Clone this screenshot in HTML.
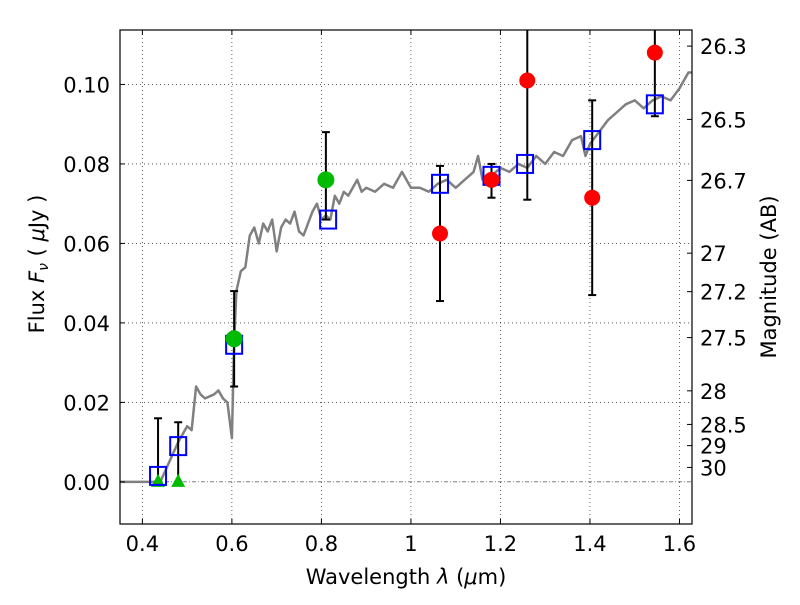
<!DOCTYPE html>
<html><head><meta charset="utf-8"><style>
body{margin:0;background:#fff}
svg text{font-family:"DejaVu Sans","Liberation Sans",sans-serif;fill:#000}
</style></head><body>
<svg id="chart" width="800" height="600"></svg>
<script>
const specX=[0.35,0.44,0.46,0.48,0.50,0.51,0.52,0.53,0.54,0.56,0.57,0.58,0.59,0.60,0.605,0.61,0.62,0.63,0.64,0.65,0.66,0.67,0.68,0.69,0.70,0.71,0.72,0.73,0.74,0.75,0.76,0.77,0.78,0.79,0.80,0.81,0.82,0.83,0.84,0.85,0.86,0.87,0.88,0.89,0.90,0.92,0.94,0.96,0.98,1.0,1.02,1.04,1.06,1.08,1.10,1.12,1.14,1.15,1.16,1.18,1.20,1.22,1.24,1.26,1.28,1.30,1.32,1.34,1.36,1.38,1.39,1.40,1.42,1.44,1.46,1.48,1.50,1.52,1.54,1.56,1.58,1.60,1.62,1.63];
const specY=[0,0,0.005,0.010,0.014,0.013,0.024,0.022,0.021,0.022,0.023,0.021,0.020,0.011,0.035,0.048,0.053,0.054,0.062,0.064,0.060,0.065,0.063,0.066,0.058,0.064,0.066,0.065,0.068,0.063,0.062,0.065,0.068,0.070,0.066,0.067,0.066,0.072,0.070,0.073,0.072,0.074,0.076,0.073,0.074,0.073,0.075,0.074,0.078,0.074,0.074,0.073,0.075,0.076,0.074,0.076,0.078,0.082,0.076,0.077,0.079,0.078,0.080,0.079,0.082,0.080,0.083,0.082,0.086,0.087,0.082,0.085,0.088,0.091,0.093,0.095,0.096,0.094,0.096,0.097,0.096,0.099,0.103,0.103];
const modelX=[0.435,0.48,0.605,0.815,1.065,1.18,1.255,1.405,1.545];
const modelY=[0.0015,0.009,0.0345,0.066,0.075,0.077,0.080,0.086,0.095];
const greenX=[0.605,0.81];
const greenY=[0.036,0.076];
const greenLo=[0.024,0.066];
const greenHi=[0.048,0.088];
const limX=[0.435,0.48];
const limHi=[0.016,0.015];
const redX=[1.065,1.18,1.26,1.405,1.545];
const redY=[0.0625,0.076,0.101,0.0715,0.108];
const redLo=[0.0455,0.0715,0.071,0.047,0.092];
const redHi=[0.0795,0.080,0.13,0.096,0.13];
const xTicks=[0.4,0.6,0.8,1,1.2,1.4,1.6];
const xTickLabels=["0.4","0.6","0.8","1","1.2","1.4","1.6"];
const yTicks=[0,0.02,0.04,0.06,0.08,0.10];
const yTickLabels=["0.00","0.02","0.04","0.06","0.08","0.10"];
const magTicks=[26.3,26.5,26.7,27,27.2,27.5,28,28.5,29,30];

const L=120,R=692,T=30,B=524,XMIN=0.35,XMAX=1.628,YMIN=-0.0106,YMAX=0.1137;
const sx=v=>L+(v-XMIN)/(XMAX-XMIN)*(R-L);
const sy=v=>B-(v-YMIN)/(YMAX-YMIN)*(B-T);
const svg=document.getElementById('chart');
const NS='http://www.w3.org/2000/svg';
function mk(tag,attrs,parent){const e=document.createElementNS(NS,tag);for(const k in attrs)e.setAttribute(k,attrs[k]);(parent||svg).appendChild(e);return e;}
const clip=mk('clipPath',{id:'pc'});mk('rect',{x:L,y:T,width:R-L,height:B-T},clip);
const plot=mk('g',{'clip-path':'url(#pc)'});


xTicks.forEach(v=>{const g=mk('line',{x1:sx(v),x2:sx(v),y1:T,y2:B,stroke:'#000','stroke-width':0.6,'stroke-dasharray':'1,3'},plot);

});
yTicks.forEach(v=>{if(v===0)return;const g=mk('line',{x1:L,x2:R,y1:sy(v),y2:sy(v),stroke:'#000','stroke-width':0.6,'stroke-dasharray':'1,3'},plot);

});
const zl=mk('line',{x1:L,x2:R,y1:sy(0),y2:sy(0),stroke:'#000','stroke-width':0.6,'stroke-dasharray':'4,2,1,2'},plot);


const sp=mk('polyline',{points:specX.map((x,i)=>sx(x)+','+sy(specY[i])).join(' '),fill:'none',stroke:'#808080','stroke-width':2.5,'stroke-linejoin':'round'},plot);


function err(x,lo,hi){const g=mk('g',{stroke:'#000','stroke-width':2},plot);


mk('line',{x1:sx(x),x2:sx(x),y1:sy(lo),y2:sy(hi)},g);
mk('line',{x1:sx(x)-4,x2:sx(x)+4,y1:sy(lo),y2:sy(lo)},g);
mk('line',{x1:sx(x)-4,x2:sx(x)+4,y1:sy(hi),y2:sy(hi)},g);}
limX.forEach((x,i)=>err(x,0,limHi[i]));
greenX.forEach((x,i)=>err(x,greenLo[i],greenHi[i]));
redX.forEach((x,i)=>err(x,redLo[i],redHi[i]));
limX.forEach(x=>{const t=mk('polygon',{points:`${sx(x)},${sy(0)-8} ${sx(x)-7},${sy(0)+5} ${sx(x)+7},${sy(0)+5}`,fill:'#00bb00'},plot);

});
modelX.forEach((x,i)=>{const r=mk('rect',{x:sx(x)-8,y:sy(modelY[i])-9,width:16,height:18,fill:'none',stroke:'#0000ff','stroke-width':2},plot);

});
greenX.forEach((x,i)=>{const c=mk('circle',{cx:sx(x),cy:sy(greenY[i]),r:8.5,fill:'#00bb00'},plot);

});
redX.forEach((x,i)=>{const c=mk('circle',{cx:sx(x),cy:sy(redY[i]),r:8,fill:'#ff0000'},plot);

});
const fr=mk('rect',{x:L,y:T,width:R-L,height:B-T,fill:'none',stroke:'#000','stroke-width':1.2});


xTicks.forEach((v,i)=>{mk('line',{x1:sx(v),x2:sx(v),y1:B,y2:B-5,stroke:'#000'});mk('line',{x1:sx(v),x2:sx(v),y1:T,y2:T+5,stroke:'#000'});
const t=mk('text',{x:sx(v),y:B+27,'text-anchor':'middle','font-size':21});t.textContent=xTickLabels[i];

});
yTicks.forEach((v,i)=>{mk('line',{x1:L,x2:L+5,y1:sy(v),y2:sy(v),stroke:'#000'});
const t=mk('text',{x:L-10,y:sy(v)+8,'text-anchor':'end','font-size':21});t.textContent=yTickLabels[i];

});
magTicks.forEach(m=>{const f=Math.pow(10,(23.9-m)/2.5);const y=sy(f);mk('line',{x1:R,x2:R-5,y1:y,y2:y,stroke:'#000'});
const t=mk('text',{x:R+8,y:y+8,'font-size':21});t.textContent=String(m);

});
let t=mk('text',{x:406,y:584,'text-anchor':'middle','font-size':21});t.innerHTML='Wavelength  <tspan font-style="italic">λ</tspan> (<tspan font-style="italic">μ</tspan>m)';


t=mk('text',{x:44,y:264,'text-anchor':'middle','font-size':21,transform:'rotate(-90 44 264)'});t.innerHTML='Flux  <tspan font-style="italic">F</tspan><tspan font-style="italic" font-size="14" dy="4">ν</tspan><tspan dy="-4">  ( </tspan><tspan font-style="italic">μ</tspan>Jy )';


t=mk('text',{x:776,y:277,'text-anchor':'middle','font-size':21,transform:'rotate(-90 776 277)'});t.textContent='Magnitude (AB)';


</script>
</body></html>
